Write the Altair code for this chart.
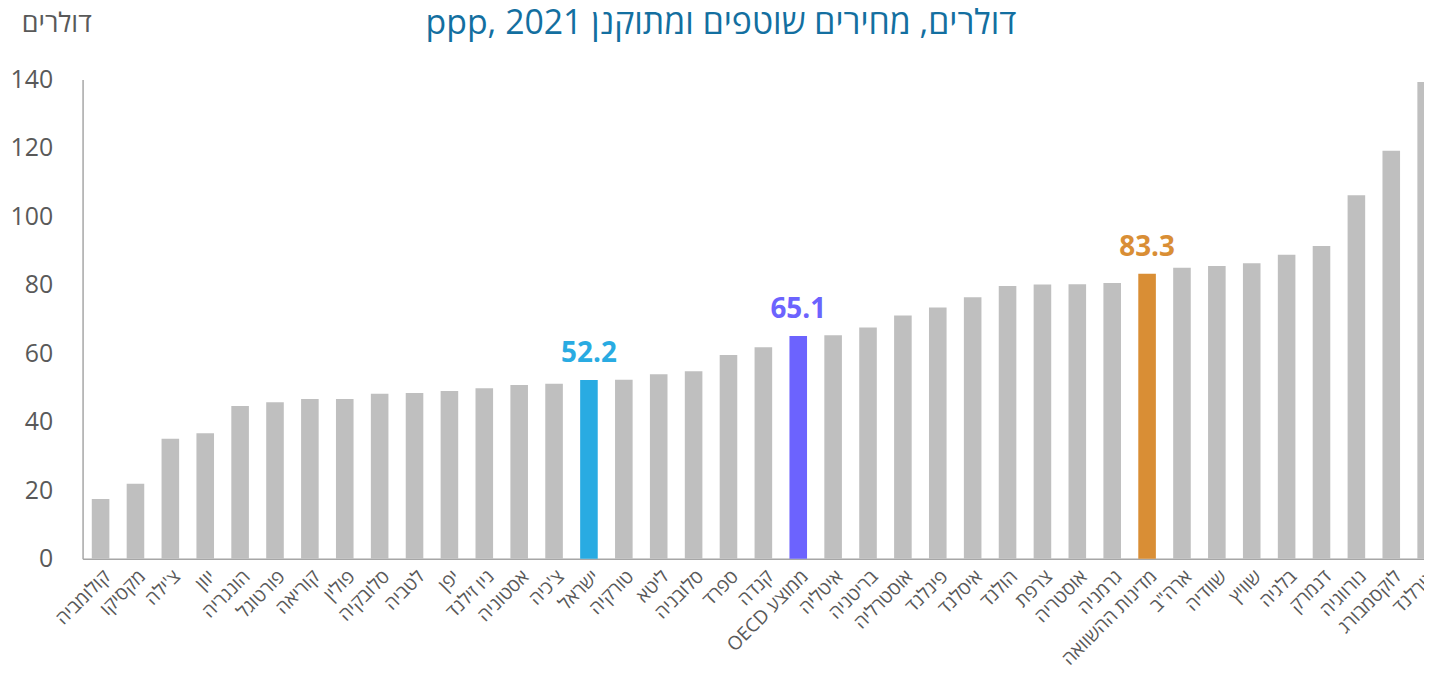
import json
import altair as alt
import pandas as pd

countries = ["קולומביה", "מקסיקו", "צ'ילה", "יוון", "הונגריה", "פורטוגל", "קוריאה", "פולין",
             "סלובקיה", "לטביה", "יפן", "ניו זילנד", "אסטוניה", "צ'כיה", "ישראל", "טורקיה",
             "ליטא", "סלובניה", "ספרד", "קנדה", "ממוצע OECD", "איטליה", "בריטניה", "אוסטרליה",
             "פינלנד", "איסלנד", "הולנד", "צרפת", "אוסטריה", "גרמניה", "מדינות ההשוואה", 'ארה"ב',
             "שוודיה", "שוויץ", "בלגיה", "דנמרק", "נורווגיה", "לוקסמבורג", "אירלנד"]
values = [17.5, 21.9, 35.1, 36.7, 44.6, 45.7, 46.7, 46.7, 48.2, 48.4, 49.0, 49.8, 50.8, 51.1,
          52.2, 52.3, 53.9, 54.8, 59.5, 61.8, 65.1, 65.3, 67.6, 71.1, 73.4, 76.4, 79.7, 80.1,
          80.2, 80.6, 83.3, 85.0, 85.5, 86.3, 88.8, 91.4, 106.2, 119.2, 139.3]
highlight = {"ישראל": "israel", "ממוצע OECD": "oecd", "מדינות ההשוואה": "comp"}
groups = ["other", "israel", "oecd", "comp"]
group_colors = ["#BFBFBF", "#29ABE2", "#6C63FE", "#D98E35"]
y_ticks = [0, 20, 40, 60, 80, 100, 120, 140]
title_text = "ppp, 2021 דולרים, מחירים שוטפים ומתוקנן"
y_title = "דולרים"

df = pd.DataFrame({"country": countries, "value": values})
df["pos"] = list(range(len(countries)))
df["group"] = [highlight.get(c, "other") for c in countries]
df["label"] = [f"{v:.1f}" if c in highlight else "" for c, v in zip(countries, values)]

FONT = "Open Sans"
GREY_TXT = "#595959"
color_scale = alt.Scale(domain=groups, range=group_colors)

names_expr = "[" + ",".join(json.dumps(c, ensure_ascii=False) for c in countries) + "]"
# the reference plot runs past the right edge of the picture: the scale range is wider
# than the visible plot, so the last bar and its label are cut at the edge
x_scale = alt.Scale(domain=[-0.516, 38.5], range=[0, 1368.7], nice=False, zero=False)
x_axis = alt.Axis(title=None, values=list(range(len(countries))), labelAngle=-45,
                  labelFont=FONT, labelFontSize=19, labelColor=GREY_TXT, ticks=False,
                  labelPadding=8, domainColor="#A6A6A6", domainWidth=1.5, grid=False,
                  labelFlush=False, labelOverlap=False, labelBound=False,
                  labelExpr="'\u202b' + " + names_expr + "[datum.value] + '\u202c'")
y_axis = alt.Axis(title=None, values=y_ticks, grid=False, ticks=False,
                  labelFont=FONT, labelFontSize=25, labelColor=GREY_TXT,
                  labelPadding=30, domainColor="#A6A6A6", domainWidth=1.5)
y_scale = alt.Scale(domain=[0, 140], nice=False, padding=0)

base = alt.Chart(df)
bars = base.transform_calculate(
    x0="datum.pos - 0.252", x1="datum.pos + 0.252"
).mark_bar().encode(
    x=alt.X("x0:Q", scale=x_scale, axis=x_axis),
    x2="x1:Q",
    y=alt.Y("value:Q", scale=y_scale, axis=y_axis),
    y2=alt.datum(0),
    color=alt.Color("group:N", scale=color_scale, legend=None),
)
labels = base.transform_filter("datum.label != ''").mark_text(
    baseline="alphabetic", dy=-18, font=FONT, fontSize=28, fontWeight="bold"
).encode(
    x=alt.X("pos:Q", scale=x_scale, axis=None),
    y=alt.Y("value:Q", scale=y_scale, axis=y_axis),
    text="label:N",
    color=alt.Color("group:N", scale=color_scale, legend=None),
)
title = alt.Chart(pd.DataFrame({"t": [title_text]})).mark_text(
    font=FONT, fontSize=34, color="#136FA0", align="center", baseline="alphabetic"
).encode(text="t:N", x=alt.value(642), y=alt.value(-46))
ytitle = alt.Chart(pd.DataFrame({"t": [y_title]})).mark_text(
    font=FONT, fontSize=27, color=GREY_TXT, align="center", baseline="alphabetic"
).encode(text="t:N", x=alt.value(-26), y=alt.value(-48))

chart = alt.layer(bars, labels, title, ytitle).resolve_axis(x="independent").properties(
    width=1349, height=482,
    autosize=alt.AutoSizeParams(type="none"),
    padding={"left": 75, "top": 70, "right": 0, "bottom": 129},
).configure_view(stroke=None)

chart.save("out.html", embed_options={"renderer": "svg", "actions": False})
